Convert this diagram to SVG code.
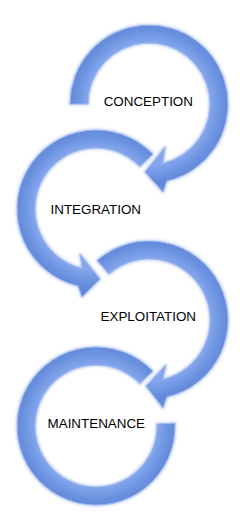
<svg xmlns="http://www.w3.org/2000/svg" width="250" height="524" viewBox="0 0 250 524">
  <defs>
    <radialGradient id="ringFill" gradientUnits="userSpaceOnUse" cx="0" cy="0" r="90">
      <stop offset="0.45" stop-color="#86a8ec"/>
      <stop offset="0.68" stop-color="#84a6ec"/>
      <stop offset="0.74" stop-color="#789de7"/>
      <stop offset="0.81" stop-color="#6b92df"/>
      <stop offset="0.88" stop-color="#6389da"/>
      <stop offset="1" stop-color="#6389da"/>
    </radialGradient>
    <filter id="glow" x="-20%" y="-20%" width="140%" height="140%">
      <feMorphology in="SourceAlpha" operator="dilate" radius="1" result="d"/>
      <feGaussianBlur in="d" stdDeviation="1.3" result="b"/>
      <feFlood flood-color="#b9cbf4" flood-opacity="0.8"/>
      <feComposite in2="b" operator="in" result="g"/>
      <feMerge>
        <feMergeNode in="g"/>
        <feMergeNode in="SourceGraphic"/>
      </feMerge>
    </filter>
  </defs>
  <style>
    .arrow { fill: url(#ringFill); stroke: #9fb7ee; stroke-width: 1; stroke-linejoin: round; filter: url(#glow); }
    .label { font-family: "Liberation Sans", Arial, sans-serif; font-size: 13.4px; fill: #000000; text-anchor: middle; }
  </style>
  <rect width="250" height="524" fill="#ffffff"/>
  <g id="connectors"/>
  <g id="conception">
    <path class="arrow" transform="translate(149,104)" d="M -79 0 A 79 79 0 1 1 17.8 77 L 14 88 L -4 68 L 16 43 L 13.7 59.4 A 61 61 0 1 0 -61 0 Z"/>
    <text class="label" x="148.3" y="106">CONCEPTION</text>
  </g>
  <g id="integration">
    <path class="arrow" transform="translate(96,209)" d="M 56.8 -54.9 A 79 79 0 1 0 -17.8 77 L -14 88 L 4 70 L -16 45 L -13.7 59.4 A 61 61 0 1 1 43.9 -42.4 Z"/>
    <text class="label" x="95.8" y="214">INTEGRATION</text>
  </g>
  <g id="exploitation">
    <path class="arrow" transform="translate(149,320)" d="M -51.8 -59.6 A 79 79 0 1 1 17.8 77 L 14 88 L -3 66 L 17 45 L 13.7 59.4 A 61 61 0 1 0 -40 -46 Z"/>
    <text class="label" x="148.3" y="321">EXPLOITATION</text>
  </g>
  <g id="maintenance">
    <path class="arrow" transform="translate(96,426)" d="M 56.8 -54.9 A 79 79 0 1 0 79 -2.8 L 61 -2.1 A 61 61 0 1 1 43.9 -42.4 Z"/>
    <text class="label" x="96.3" y="428">MAINTENANCE</text>
  </g>
</svg>
